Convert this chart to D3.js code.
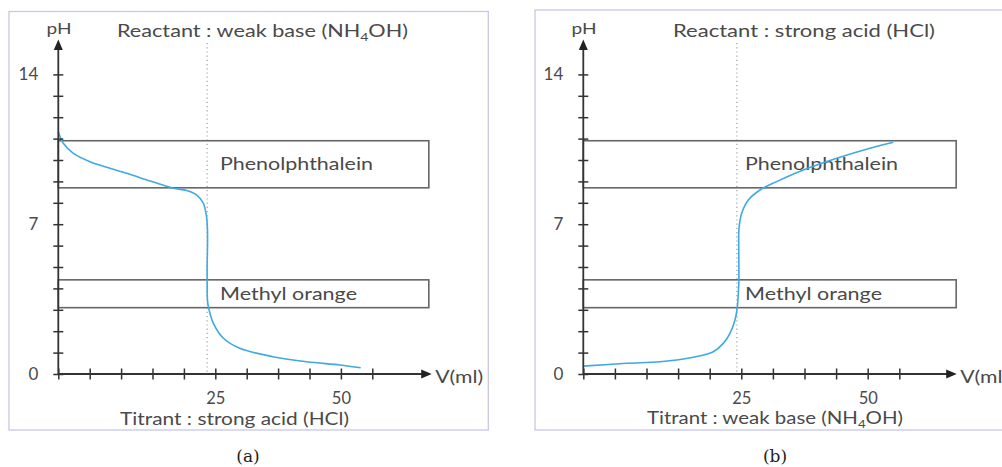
<!DOCTYPE html>
<html>
<head>
<meta charset="utf-8">
<script src="https://cdn.jsdelivr.net/npm/d3@7/dist/d3.min.js"></script>
<style>
  html, body { margin: 0; padding: 0; background: #fff; }
  svg { display: block; }
  .lbl { font-family: Lato, "Open Sans", sans-serif; fill: #4a4a4a; }
</style>
</head>
<body>
<svg id="chart" width="1002" height="467"></svg>
<script>
// ---------- data ----------
const pHTickValues = [0,1,2,3,4,5,6,7,8,9,10,11,12,13,14];
const pHTickLabels = ["0","","","","","","","7","","","","","","","14"];
const volumeTickValues = [0,5,10,15,20,25,30,35,40,45,50];
const volumeTickLabels = ["","","","","","25","","","","50",""];

const indicatorNames = ["Phenolphthalein", "Methyl orange"];
const indicatorLowPH = [8.7, 3.1];
const indicatorHighPH = [10.9, 4.4];
const indicatorEndV = 59;

// (a) weak base titrated with strong acid
const curveA_V  = [0, 0.8, 2.4, 5.05, 7.7, 10.9, 14.6, 18.3, 20.45, 22.05, 23.1, 23.6, 23.75, 23.75, 23.7, 23.7, 23.75, 23.9, 24.7, 26.3, 28.9, 34.2, 39.55, 44.85, 48.15];
const curveA_pH = [11.32, 10.78, 10.31, 9.92, 9.66, 9.38, 9.02, 8.68, 8.57, 8.36, 7.98, 7.35, 6.73, 5.79, 5.09, 4.39, 3.46, 3.14, 2.37, 1.67, 1.20, 0.81, 0.57, 0.42, 0.29];
const equivalenceA = 23.7;

// (b) strong acid titrated with weak base
const curveB_V  = [0, 6.87, 12.14, 17.41, 20.57, 22.15, 23.21, 24.0, 24.37, 24.53, 24.62, 24.6, 24.64, 25.06, 26.11, 27.96, 30.6, 34.81, 40.1, 45.36, 49.05];
const curveB_pH = [0.37, 0.50, 0.57, 0.78, 1.04, 1.43, 1.90, 2.52, 3.14, 3.77, 4.39, 5.79, 6.81, 7.51, 8.13, 8.60, 8.99, 9.53, 10.08, 10.55, 10.83];
const equivalenceB = 24.3;

const titleParts = [["Reactant : weak base (NH", "4", "OH)"], ["Reactant : strong acid (HCl)", "", ""]];
const bottomParts = [["Titrant : strong acid (HCl)", "", ""], ["Titrant : weak base (NH", "4", "OH)"]];
const captions = ["(a)", "(b)"];

// ---------- layout ----------
const panels = [
  { ox: 58.3, pxPerMl: 6.28, frame: [9, 11.5, 479.3, 418.5],
    V: curveA_V, pH: curveA_pH, eq: equivalenceA,
    title: titleParts[0], titleX: 117, titleW: 291, titleY: 36.5,
    bottom: bottomParts[0], bottomX: 120, bottomW: 229, bottomY: 424.5,
    caption: captions[0], captionX: 248,
    textW: [153, 137] },
  { ox: 583.3, pxPerMl: 6.32, frame: [535, 10, 479.3, 420],
    V: curveB_V, pH: curveB_pH, eq: equivalenceB,
    title: titleParts[1], titleX: 673, titleW: 262, titleY: 37,
    bottom: bottomParts[1], bottomX: 647, bottomW: 256, bottomY: 423.5,
    caption: captions[1], captionX: 775,
    textW: [153, 137] }
];
const axisY = 374;
const yScale = d3.scaleLinear().domain([0, 14]).range([axisY, axisY - 14 * 21.4]);

const svg = d3.select("#chart");
const axisColor = "#333";

function richText(g, parts, x, y, w, size) {
  const t = g.append("text").attr("class", "lbl").attr("x", x).attr("y", y)
    .attr("font-size", size).attr("textLength", w).attr("lengthAdjust", "spacingAndGlyphs");
  t.append("tspan").text(parts[0]);
  if (parts[1]) {
    t.append("tspan").attr("dy", 4).attr("font-size", size * 0.65).text(parts[1]);
    t.append("tspan").attr("dy", -4).text(parts[2]);
  }
  return t;
}

panels.forEach((p, i) => {
  const g = svg.append("g");
  const x = d3.scaleLinear().domain([0, 55]).range([p.ox, p.ox + 55 * p.pxPerMl]);

  // frame
  g.append("rect").attr("x", p.frame[0]).attr("y", p.frame[1])
    .attr("width", p.frame[2]).attr("height", p.frame[3])
    .attr("fill", "none").attr("stroke", "#c8c8e6").attr("stroke-width", 1.3);

  // equivalence dotted line
  g.append("line").attr("x1", x(p.eq)).attr("x2", x(p.eq))
    .attr("y1", 43).attr("y2", axisY)
    .attr("stroke", "#999").attr("stroke-width", 1.1).attr("stroke-dasharray", "1.2,3");

  // indicator boxes
  indicatorNames.forEach((name, k) => {
    const y0 = yScale(indicatorHighPH[k]), y1 = yScale(indicatorLowPH[k]);
    g.append("rect").attr("x", x(0)).attr("y", y0)
      .attr("width", x(indicatorEndV) - x(0)).attr("height", y1 - y0)
      .attr("fill", "none").attr("stroke", "#666").attr("stroke-width", 1.6);
    g.append("text").attr("class", "lbl").attr("x", p.ox + 161.7)
      .attr("y", (y0 + y1) / 2 + 5.8).attr("font-size", 16.5)
      .attr("textLength", p.textW[k]).attr("lengthAdjust", "spacingAndGlyphs")
      .text(name);
  });

  // curve
  const pts = p.V.map((v, j) => [v, p.pH[j]]);
  g.append("path").datum(pts)
    .attr("d", d3.line().x(d => x(d[0])).y(d => yScale(d[1])).curve(d3.curveCatmullRom.alpha(0.5)))
    .attr("fill", "none").attr("stroke", "#3fa9e3").attr("stroke-width", 1.6);

  // y axis
  const yAxis = d3.axisLeft(yScale).tickValues(pHTickValues)
    .tickFormat((d, j) => pHTickLabels[j]).tickSize(5).tickPadding(15);
  const gy = g.append("g").attr("transform", `translate(${p.ox},0)`).call(yAxis);
  gy.select(".domain").remove();
  gy.selectAll(".tick line").attr("x1", -5).attr("x2", 5).attr("stroke", axisColor).attr("stroke-width", 1.5);
  gy.selectAll(".tick text").attr("class", "lbl").attr("font-size", 17).style("fill", "#4a4a4a");

  // x axis
  const xAxis = d3.axisBottom(x).tickValues(volumeTickValues)
    .tickFormat((d, j) => volumeTickLabels[j]).tickSize(5).tickPadding(13.5);
  const gx = g.append("g").attr("transform", `translate(0,${axisY})`).call(xAxis);
  gx.select(".domain").remove();
  gx.selectAll(".tick line").attr("y1", -5.5).attr("y2", 5.5).attr("stroke", axisColor).attr("stroke-width", 1.5);
  gx.selectAll(".tick text").attr("class", "lbl").attr("font-size", 16.5).style("fill", "#4a4a4a");

  // axis lines with arrows
  g.append("line").attr("x1", p.ox).attr("x2", p.ox).attr("y1", axisY).attr("y2", 48)
    .attr("stroke", axisColor).attr("stroke-width", 1.8);
  g.append("path").attr("d", `M${p.ox},39.5 L${p.ox - 4.5},50 L${p.ox + 4.5},50 Z`).attr("fill", "#222");
  const tipX = p.ox + 373.4;
  g.append("line").attr("x1", p.ox).attr("x2", tipX - 8).attr("y1", axisY).attr("y2", axisY)
    .attr("stroke", axisColor).attr("stroke-width", 1.8);
  g.append("path").attr("d", `M${tipX},${axisY} L${tipX - 10.5},${axisY - 4.5} L${tipX - 10.5},${axisY + 4.5} Z`).attr("fill", "#222");

  // axis titles
  g.append("text").attr("class", "lbl").attr("x", p.ox + 0.7).attr("y", 34)
    .attr("text-anchor", "middle").attr("font-size", 15.5)
    .attr("textLength", 25).attr("lengthAdjust", "spacingAndGlyphs").text("pH");
  g.append("text").attr("class", "lbl").attr("x", tipX + 3.5).attr("y", 382.5)
    .attr("font-size", 16.5).attr("textLength", 48).attr("lengthAdjust", "spacingAndGlyphs").text("V(ml)");

  // titles
  richText(g, p.title, p.titleX, p.titleY, p.titleW, 16.5);
  richText(g, p.bottom, p.bottomX, p.bottomY, p.bottomW, 16.5);

  // caption
  g.append("text").attr("x", p.captionX).attr("y", 462).attr("text-anchor", "middle")
    .attr("font-family", "'DejaVu Serif', 'Liberation Serif', serif").attr("font-size", 17)
    .attr("fill", "#222").text(p.caption);
});
</script>
</body>
</html>
